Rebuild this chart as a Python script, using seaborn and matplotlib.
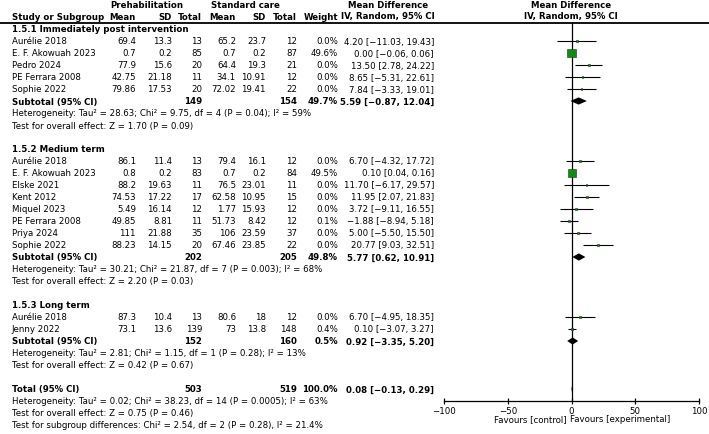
import matplotlib
matplotlib.use("Agg")
import matplotlib.pyplot as plt
import seaborn as sns
import pandas as pd

# 1.5.1 Immediately post intervention
names_1 = ["Aurélie 2018", "E. F. Akowuah 2023", "Pedro 2024", "PE Ferrara 2008", "Sophie 2022"]
pre_mean_1 = [69.4, 0.7, 77.9, 42.75, 79.86]
pre_sd_1 = [13.3, 0.2, 15.6, 21.18, 17.53]
pre_n_1 = [13, 85, 20, 11, 20]
std_mean_1 = [65.2, 0.7, 64.4, 34.1, 72.02]
std_sd_1 = [23.7, 0.2, 19.3, 10.91, 19.41]
std_n_1 = [12, 87, 21, 12, 22]
weight_1 = [0.0, 49.6, 0.0, 0.0, 0.0]
md_1 = [4.20, 0.00, 13.50, 8.65, 7.84]
lo_1 = [-11.03, -0.06, 2.78, -5.31, -3.33]
hi_1 = [19.43, 0.06, 24.22, 22.61, 19.01]

# 1.5.2 Medium term
names_2 = ["Aurélie 2018", "E. F. Akowuah 2023", "Elske 2021", "Kent 2012", "Miquel 2023",
           "PE Ferrara 2008", "Priya 2024", "Sophie 2022"]
pre_mean_2 = [86.1, 0.8, 88.2, 74.53, 5.49, 49.85, 111, 88.23]
pre_sd_2 = [11.4, 0.2, 19.63, 17.22, 16.14, 8.81, 21.88, 14.15]
pre_n_2 = [13, 83, 11, 17, 12, 11, 35, 20]
std_mean_2 = [79.4, 0.7, 76.5, 62.58, 1.77, 51.73, 106, 67.46]
std_sd_2 = [16.1, 0.2, 23.01, 10.95, 15.93, 8.42, 23.59, 23.85]
std_n_2 = [12, 84, 11, 15, 12, 12, 37, 22]
weight_2 = [0.0, 49.5, 0.0, 0.0, 0.0, 0.1, 0.0, 0.0]
md_2 = [6.70, 0.10, 11.70, 11.95, 3.72, -1.88, 5.00, 20.77]
lo_2 = [-4.32, 0.04, -6.17, 2.07, -9.11, -8.94, -5.50, 9.03]
hi_2 = [17.72, 0.16, 29.57, 21.83, 16.55, 5.18, 15.50, 32.51]

# 1.5.3 Long term
names_3 = ["Aurélie 2018", "Jenny 2022"]
pre_mean_3 = [87.3, 73.1]
pre_sd_3 = [10.4, 13.6]
pre_n_3 = [13, 139]
std_mean_3 = [80.6, 73]
std_sd_3 = [18, 13.8]
std_n_3 = [12, 148]
weight_3 = [0.0, 0.4]
md_3 = [6.70, 0.10]
lo_3 = [-4.95, -3.07]
hi_3 = [18.35, 3.27]

# subtotals: pre total, std total, weight, md, lo, hi
titles = ["1.5.1 Immediately post intervention", "1.5.2 Medium term", "1.5.3 Long term"]
sub_pre_n = [149, 202, 152]
sub_std_n = [154, 205, 160]
sub_weight = [49.7, 49.8, 0.5]
sub_md = [5.59, 5.77, 0.92]
sub_lo = [-0.87, 0.62, -3.35]
sub_hi = [12.04, 10.91, 5.20]
sub_het = ["Heterogeneity: Tau² = 28.63; Chi² = 9.75, df = 4 (P = 0.04); I² = 59%",
           "Heterogeneity: Tau² = 30.21; Chi² = 21.87, df = 7 (P = 0.003); I² = 68%",
           "Heterogeneity: Tau² = 2.81; Chi² = 1.15, df = 1 (P = 0.28); I² = 13%"]
sub_z = ["Test for overall effect: Z = 1.70 (P = 0.09)",
         "Test for overall effect: Z = 2.20 (P = 0.03)",
         "Test for overall effect: Z = 0.42 (P = 0.67)"]

total_pre_n, total_std_n, total_weight = 503, 519, 100.0
total_md, total_lo, total_hi = 0.08, -0.13, 0.29
total_notes = ["Heterogeneity: Tau² = 0.02; Chi² = 38.23, df = 14 (P = 0.0005); I² = 63%",
               "Test for overall effect: Z = 0.75 (P = 0.46)",
               "Test for subgroup differences: Chi² = 2.54, df = 2 (P = 0.28), I² = 21.4%"]

xticks = [-100, -50, 0, 50, 100]

sns.set_style("white")
plt.rcParams["font.family"] = ["DejaVu Sans"]
plt.rcParams["text.color"] = "black"
FS = 6.2

groups = [
    (names_1, pre_mean_1, pre_sd_1, pre_n_1, std_mean_1, std_sd_1, std_n_1, weight_1, md_1, lo_1, hi_1),
    (names_2, pre_mean_2, pre_sd_2, pre_n_2, std_mean_2, std_sd_2, std_n_2, weight_2, md_2, lo_2, hi_2),
    (names_3, pre_mean_3, pre_sd_3, pre_n_3, std_mean_3, std_sd_3, std_n_3, weight_3, md_3, lo_3, hi_3),
]


def fmt_num(v):
    return f"{v:g}"


def fmt_ci(m, lo, hi):
    return f"{m:.2f} [{lo:.2f}, {hi:.2f}]".replace("-", "\u2212")


def ypx(r):
    # row -> pixel y in the text layer
    return 30 + 12 * r


fig = plt.figure(figsize=(7.09, 4.35), dpi=100)
tax = fig.add_axes([0, 0, 1, 1])
tax.set_xlim(0, 709)
tax.set_ylim(435, 0)
tax.axis("off")

LEFT = 11.5
COLS = [136, 172, 202, 236, 266, 297, 338, 434]


def put(x, r, s, ha="right", bold=False, y=None):
    tax.text(x, ypx(r) if y is None else y, s, ha=ha, va="center", fontsize=FS,
             color="black", fontweight="bold" if bold else "normal")


# header
put(146.5, 0, "Prehabilitation", ha="center", bold=True, y=6)
put(245, 0, "Standard care", ha="center", bold=True, y=6)
put(388, 0, "Mean Difference", ha="center", bold=True, y=6)
put(571, 0, "Mean Difference", ha="center", bold=True, y=6)
put(LEFT, 0, "Study or Subgroup", ha="left", bold=True, y=17)
for x, lab in zip(COLS, ["Mean", "SD", "Total", "Mean", "SD", "Total", "Weight"]):
    put(x, 0, lab, bold=True, y=17)
put(388, 0, "IV, Random, 95% CI", ha="center", bold=True, y=17)
put(571, 0, "IV, Random, 95% CI", ha="center", bold=True, y=17)
tax.axhline(24, color="black", lw=1.3)

# build rows
study_rows = []
sub_rows = []
row = 0
for gi, g in enumerate(groups):
    names, pm, psd, pn, sm, ssd, sn, w, md, lo, hi = g
    put(LEFT, row, titles[gi], ha="left", bold=True)
    row += 1
    for i in range(len(names)):
        put(LEFT, row, names[i], ha="left")
        vals = [fmt_num(pm[i]), fmt_num(psd[i]), str(pn[i]), fmt_num(sm[i]),
                fmt_num(ssd[i]), str(sn[i]), f"{w[i]:.1f}%", fmt_ci(md[i], lo[i], hi[i])]
        for x, v in zip(COLS, vals):
            put(x, row, v)
        study_rows.append(dict(row=row, md=md[i], lo=lo[i], hi=hi[i], weight=w[i]))
        row += 1
    put(LEFT, row, "Subtotal (95% CI)", ha="left", bold=True)
    put(COLS[2], row, str(sub_pre_n[gi]), bold=True)
    put(COLS[5], row, str(sub_std_n[gi]), bold=True)
    put(COLS[6], row, f"{sub_weight[gi]:.1f}%", bold=True)
    put(COLS[7], row, fmt_ci(sub_md[gi], sub_lo[gi], sub_hi[gi]), bold=True)
    sub_rows.append(dict(row=row, md=sub_md[gi], lo=sub_lo[gi], hi=sub_hi[gi]))
    row += 1
    put(LEFT, row, sub_het[gi], ha="left")
    row += 1
    put(LEFT, row, sub_z[gi], ha="left")
    row += 2

put(LEFT, row, "Total (95% CI)", ha="left", bold=True)
put(COLS[2], row, str(total_pre_n), bold=True)
put(COLS[5], row, str(total_std_n), bold=True)
put(COLS[6], row, f"{total_weight:.1f}%", bold=True)
put(COLS[7], row, fmt_ci(total_md, total_lo, total_hi), bold=True)
sub_rows.append(dict(row=row, md=total_md, lo=total_lo, hi=total_hi))
for k, note in enumerate(total_notes):
    put(LEFT, row + 1 + k, note, ha="left")

studies = pd.DataFrame(study_rows)
diamonds = pd.DataFrame(sub_rows)

# forest panel
ax = fig.add_axes([444 / 709, (435 - 402) / 435, 255 / 709, (402 - 24) / 435])
ax.patch.set_alpha(0)
ax.set_xlim(-100, 100)
ax.set_ylim(31, -0.5)
ax.axvline(0, color="black", lw=0.9, zorder=1)
ax.hlines(studies["row"], studies["lo"], studies["hi"], color="black", lw=0.8, zorder=2)
sns.scatterplot(data=studies, x="md", y="row", size="weight", sizes=(1.5, 34), size_norm=(0, 50),
                marker="s", color="#138a13", edgecolor="#0a3f0a", linewidth=0.4,
                legend=False, ax=ax, zorder=3)
for _, d in diamonds.iterrows():
    ax.fill([d["lo"], d["md"], d["hi"], d["md"]],
            [d["row"], d["row"] - 0.3, d["row"], d["row"] + 0.3],
            color="black", lw=0, zorder=3)

for s in ["top", "left", "right"]:
    ax.spines[s].set_visible(False)
ax.spines["bottom"].set_linewidth(0.9)
ax.spines["bottom"].set_color("black")
ax.set_xticks(xticks)
ax.set_yticks([])
ax.set_xlabel("")
ax.set_ylabel("")
ax.tick_params(axis="x", direction="inout", length=5, width=0.9, labelsize=FS, pad=1,
               colors="black", bottom=True)

tax.text(567, 420, "Favours [control]", ha="right", va="center", fontsize=FS, color="black")
tax.text(570, 420, "Favours [experimental]", ha="left", va="center", fontsize=FS, color="black")

fig.savefig("out.png", dpi=100)
